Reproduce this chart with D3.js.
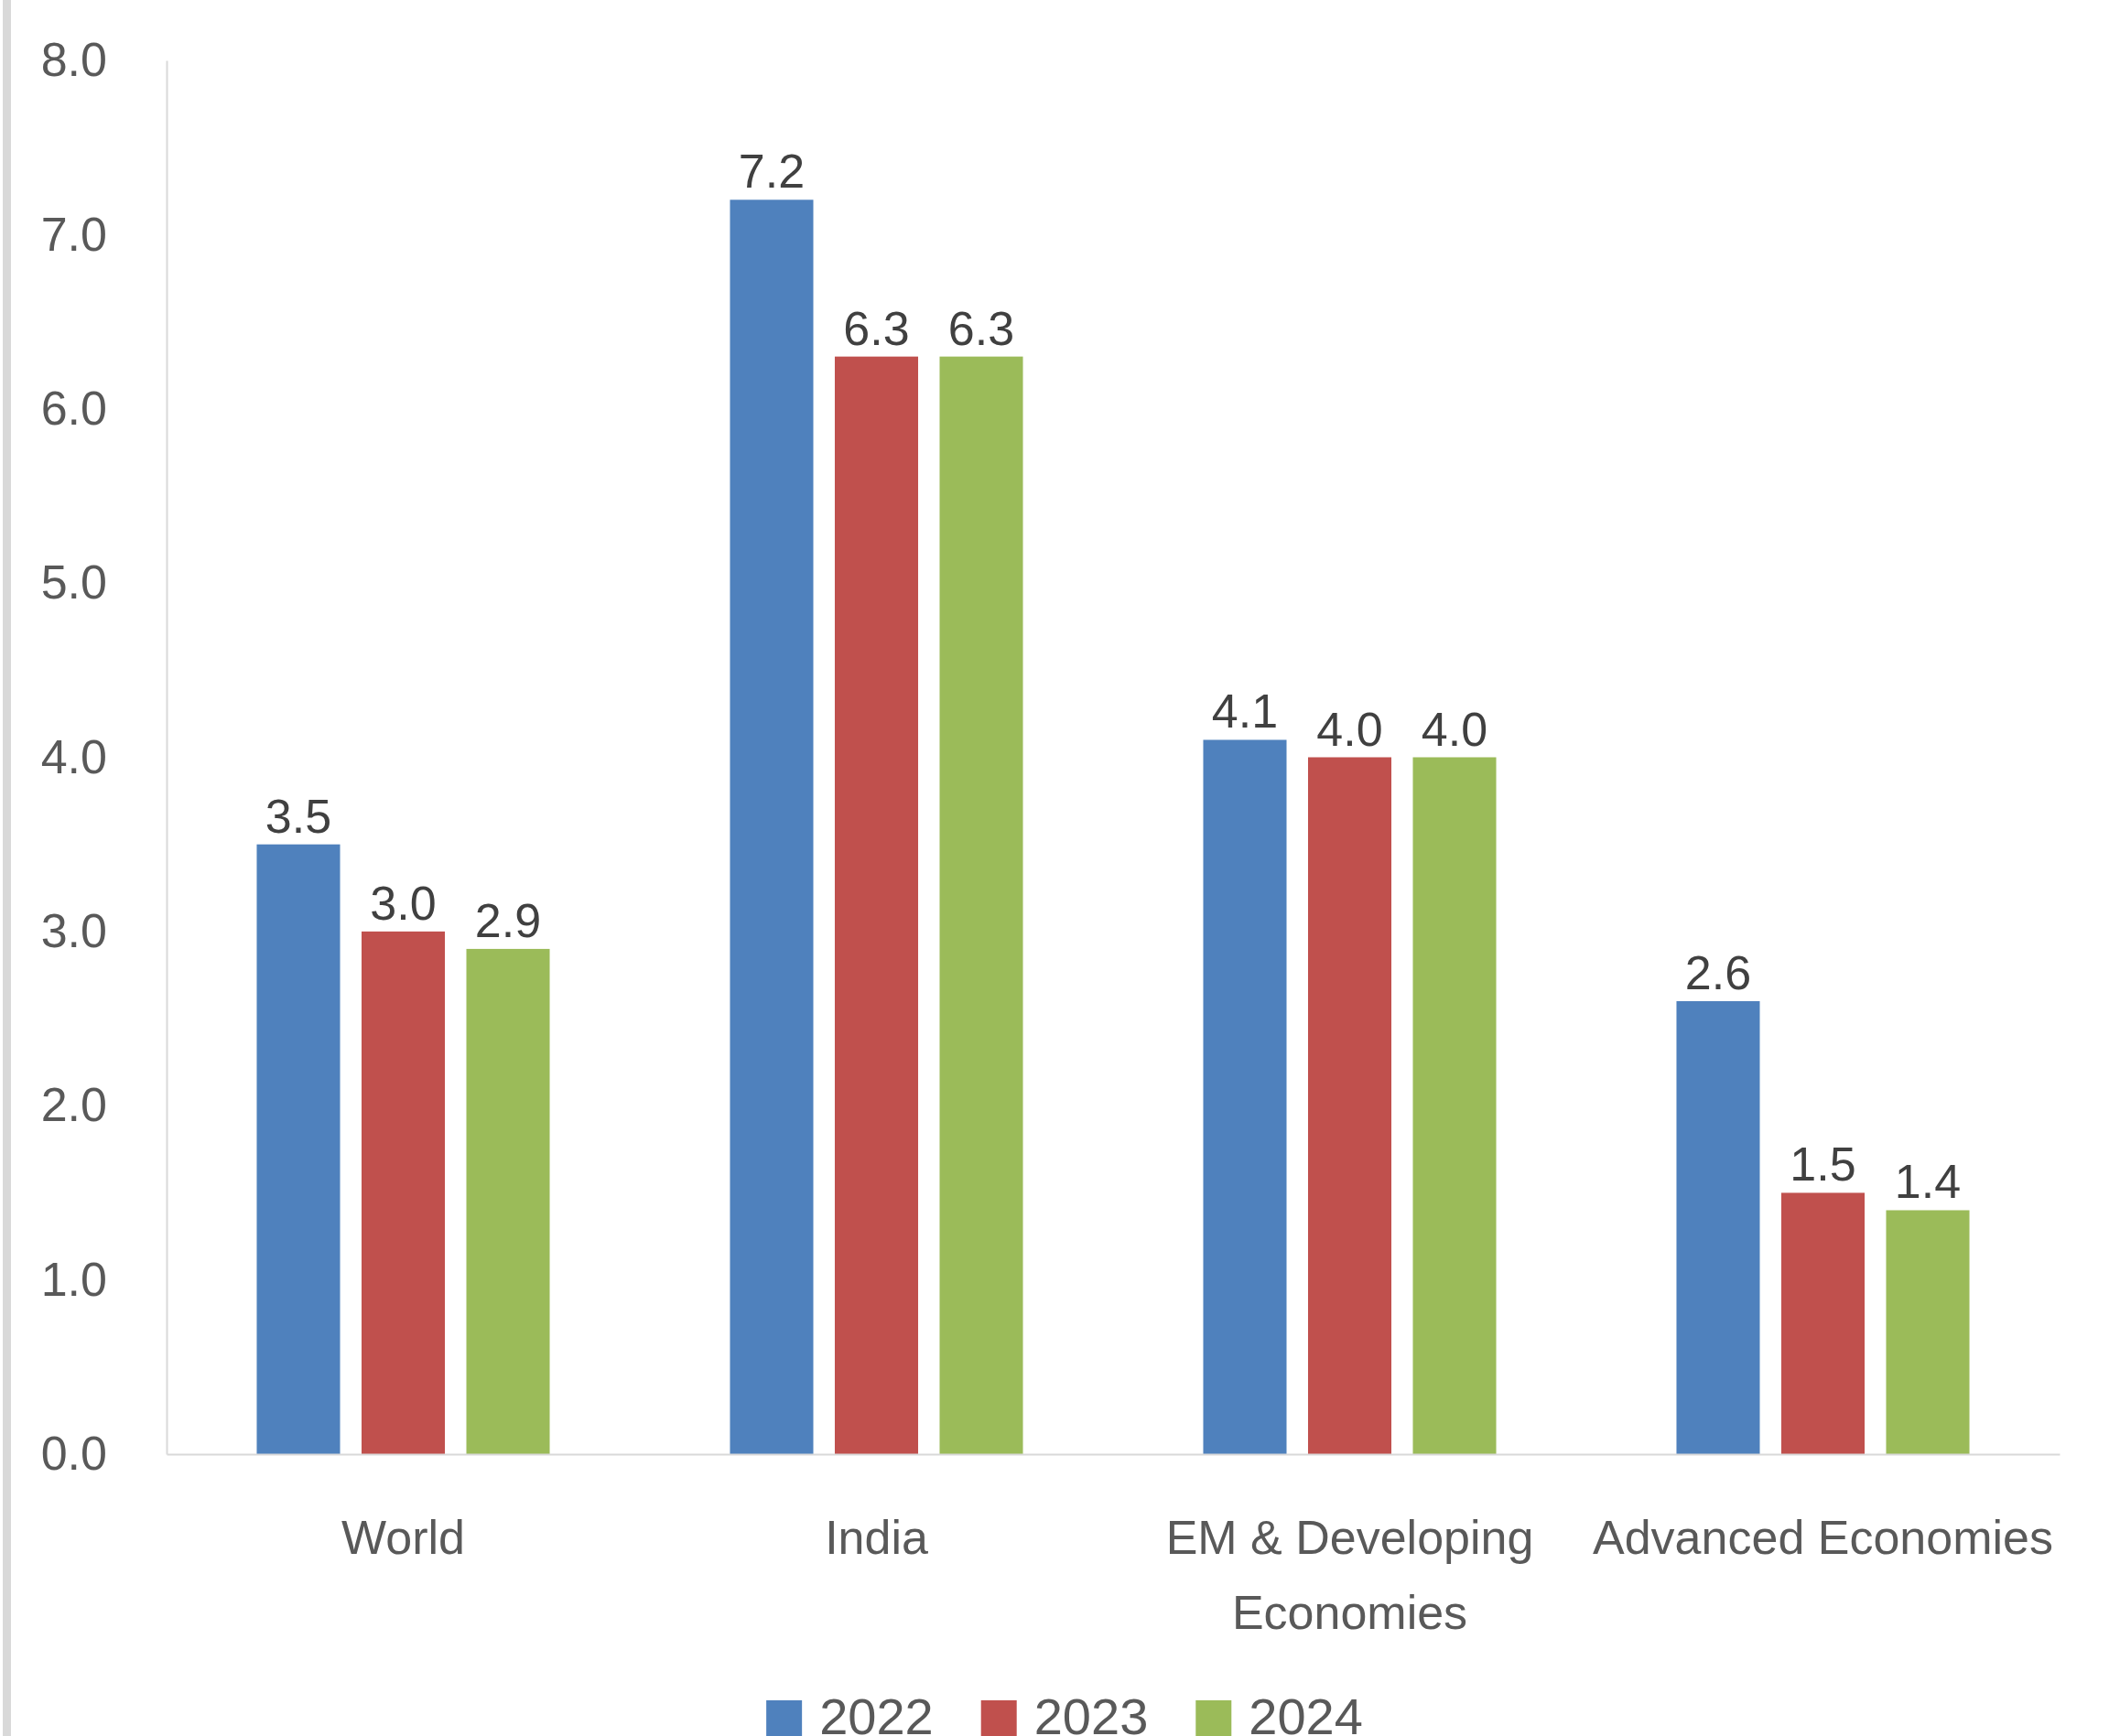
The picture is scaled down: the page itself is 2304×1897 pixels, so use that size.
<!DOCTYPE html>
<html>
<head>
<meta charset="utf-8">
<script src="https://cdn.jsdelivr.net/npm/d3@7"></script>
<style>
  html, body { margin: 0; padding: 0; background: #ffffff; }
  svg { display: block; }
  text { font-family: "Liberation Sans", Arial, Helvetica, sans-serif; }
</style>
</head>
<body>
<script>
// GDP growth (%) by economy group, 2022–2024
const categories = ["World", "India", "EM & Developing Economies", "Advanced Economies"];
const series = ["2022", "2023", "2024"];
const values2022 = [3.5, 7.2, 4.1, 2.6];
const values2023 = [3.0, 6.3, 4.0, 1.5];
const values2024 = [2.9, 6.3, 4.0, 1.4];
const yTicks = [0, 1, 2, 3, 4, 5, 6, 7, 8];

const seriesValues = [values2022, values2023, values2024];
const colors = ["#4F81BD", "#C0504D", "#9BBB59"];

const W = 2304, H = 1897;
const plot = { left: 182, right: 2250, top: 66, bottom: 1589 };

const svg = d3.select("body").append("svg")
  .attr("width", W).attr("height", H);

// thin grey frame edge on the left side
svg.append("rect")
  .attr("x", 3).attr("y", 0).attr("width", 9).attr("height", H)
  .attr("fill", "#d9d9d9");

const x0 = d3.scaleBand()
  .domain(categories)
  .range([plot.left, plot.right])
  .padding(0);

const x1 = d3.scaleBand()
  .domain(series)
  .range([0, x0.bandwidth()])
  .paddingInner(0.205)
  .paddingOuter(0.86);

const y = d3.scaleLinear()
  .domain([0, 8])
  .range([plot.bottom, plot.top]);

// value axis
const yAxis = svg.append("g")
  .attr("transform", `translate(${plot.left},0)`)
  .call(d3.axisLeft(y).tickValues(yTicks).tickFormat(d3.format(".1f"))
    .tickSize(0).tickSizeOuter(0).tickPadding(65));
yAxis.select(".domain").attr("stroke", "#d9d9d9").attr("stroke-width", 2);
yAxis.selectAll("text")
  .attr("fill", "#595959")
  .style("font-size", "52px");

// bars
const groups = svg.append("g").selectAll("g")
  .data(categories)
  .join("g")
  .attr("transform", d => `translate(${x0(d)},0)`);

groups.selectAll("rect")
  .data((d, i) => series.map((s, j) => ({ s, v: seriesValues[j][i], c: colors[j] })))
  .join("rect")
  .attr("x", d => x1(d.s))
  .attr("width", x1.bandwidth())
  .attr("y", d => y(d.v))
  .attr("height", d => y(0) - y(d.v))
  .attr("fill", d => d.c);

// data labels
groups.selectAll("text.val")
  .data((d, i) => series.map((s, j) => ({ s, v: seriesValues[j][i] })))
  .join("text")
  .attr("class", "val")
  .attr("x", d => x1(d.s) + x1.bandwidth() / 2)
  .attr("y", d => y(d.v) - 13)
  .attr("text-anchor", "middle")
  .attr("fill", "#404040")
  .style("font-size", "52px")
  .text(d => d3.format(".1f")(d.v));

// category axis
const xAxis = svg.append("g")
  .attr("transform", `translate(0,${plot.bottom})`)
  .call(d3.axisBottom(x0).tickSize(0).tickSizeOuter(0).tickPadding(0));
xAxis.select(".domain").attr("stroke", "#d9d9d9").attr("stroke-width", 2);
xAxis.selectAll("text")
  .attr("fill", "#595959")
  .attr("dy", null)
  .attr("y", 109)
  .style("font-size", "52px")
  .each(function () { wrap(d3.select(this), x0.bandwidth() + 8, 82); });

function wrap(text, width, lineHeight) {
  const words = text.text().split(/\s+/);
  text.text(null);
  let line = [];
  let tspan = text.append("tspan").attr("x", 0);
  let lineNo = 0;
  words.forEach(w => {
    line.push(w);
    tspan.text(line.join(" "));
    if (tspan.node().getComputedTextLength() > width && line.length > 1) {
      line.pop();
      tspan.text(line.join(" "));
      line = [w];
      lineNo++;
      tspan = text.append("tspan").attr("x", 0).attr("dy", lineHeight).text(w);
    }
  });
}

// legend
const legend = svg.append("g");
const items = legend.selectAll("g")
  .data(series)
  .join("g");
items.append("rect")
  .attr("width", 39).attr("height", 39)
  .attr("y", 1858)
  .attr("fill", (d, i) => colors[i]);
items.append("text")
  .attr("x", 58)
  .attr("y", 1895)
  .attr("fill", "#595959")
  .style("font-size", "56px")
  .text(d => d);

let cursor = 0;
const itemGap = 52;
const offsets = [];
items.each(function () {
  offsets.push(cursor);
  cursor += this.getBBox().width + itemGap;
});
const legendWidth = cursor - itemGap;
const legendStart = 1163 - legendWidth / 2;
items.attr("transform", (d, i) => `translate(${legendStart + offsets[i]},0)`);
</script>
</body>
</html>
